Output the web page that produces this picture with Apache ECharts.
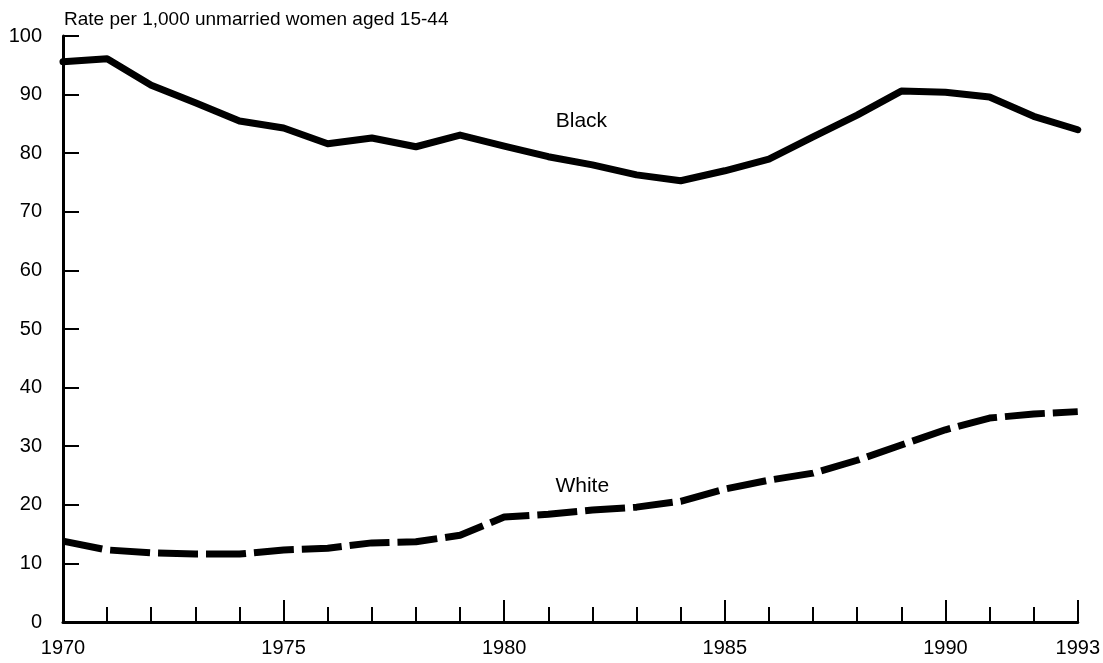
<!DOCTYPE html>
<html>
<head>
<meta charset="utf-8">
<script src="https://cdn.jsdelivr.net/npm/echarts@6/dist/echarts.min.js"></script>
<style>
  html, body { margin: 0; padding: 0; background: #fff; }
  #chart { width: 1103px; height: 663px; }
</style>
</head>
<body>
<div id="chart"></div>
<script>
// years on the x axis
const years = [1970, 1971, 1972, 1973, 1974, 1975, 1976, 1977, 1978, 1979, 1980, 1981,
  1982, 1983, 1984, 1985, 1986, 1987, 1988, 1989, 1990, 1991, 1992, 1993];
// rate per 1,000 unmarried women aged 15-44
const blackRate = [95.6, 96.1, 91.6, 88.6, 85.5, 84.3, 81.6, 82.6, 81.1, 83.1, 81.2, 79.4,
  78.0, 76.3, 75.3, 77.0, 79.0, 82.8, 86.5, 90.6, 90.4, 89.6, 86.3, 84.0];
const whiteRate = [13.8, 12.3, 11.8, 11.6, 11.6, 12.3, 12.6, 13.5, 13.7, 14.8, 17.9, 18.4,
  19.1, 19.6, 20.6, 22.7, 24.2, 25.4, 27.6, 30.2, 32.8, 34.8, 35.5, 35.9];
const majorYears = [1970, 1975, 1980, 1985, 1990, 1993];
const yTicks = [0, 10, 20, 30, 40, 50, 60, 70, 80, 90, 100];

const font = "Liberation Sans";
const pair = (arr) => years.map((y, i) => [y, arr[i]]);

var myChart = echarts.init(document.getElementById("chart"));
var option = {
  animation: false,
  title: {
    text: "Rate per 1,000 unmarried women aged 15-44",
    left: 59,
    top: 5,
    textStyle: { color: "#000", fontSize: 19, fontWeight: "normal", fontFamily: font },
  },
  grid: { left: 63, right: 22, top: 36, bottom: 41, containLabel: false },
  xAxis: [
    {
      type: "value",
      min: 1970,
      max: 1993,
      interval: 1,
      axisLine: { lineStyle: { color: "#000", width: 3 } },
      axisTick: { inside: true, length: 15, lineStyle: { color: "#000", width: 2 } },
      axisLabel: { show: false },
      splitLine: { show: false },
    },
    {
      type: "value",
      min: 1970,
      max: 1993,
      position: "bottom",
      axisLine: { show: false },
      axisTick: {
        inside: true,
        length: 22,
        customValues: majorYears,
        lineStyle: { color: "#000", width: 2 },
      },
      axisLabel: {
        customValues: majorYears,
        margin: 16,
        color: "#000",
        fontSize: 20,
        fontFamily: font,
        formatter: (v) => String(v),
      },
      splitLine: { show: false },
    },
  ],
  yAxis: {
    type: "value",
    min: 0,
    max: 100,
    interval: 10,
    axisLine: { show: true, lineStyle: { color: "#000", width: 3 } },
    axisTick: { show: true, inside: true, length: 16, customValues: yTicks, lineStyle: { color: "#000", width: 2 } },
    axisLabel: { color: "#000", fontSize: 20, fontFamily: font, margin: 21, customValues: yTicks },
    splitLine: { show: false },
  },
  series: [
    {
      name: "Black",
      type: "line",
      data: pair(blackRate),
      symbol: "none",
      lineStyle: { color: "#000", width: 7, cap: "round", join: "round" },
      markPoint: {
        symbol: "circle",
        symbolSize: 0,
        label: { show: true, formatter: "Black", color: "#000", fontSize: 21, fontFamily: font },
        data: [{ coord: [1981.75, 85.5] }],
      },
    },
    {
      name: "White",
      type: "line",
      data: pair(whiteRate),
      symbol: "none",
      lineStyle: { color: "#000", width: 7, type: [40, 8], cap: "butt", join: "round" },
      markPoint: {
        symbol: "circle",
        symbolSize: 0,
        label: { show: true, formatter: "White", color: "#000", fontSize: 21, fontFamily: font },
        data: [{ coord: [1981.77, 23.2] }],
      },
    },
  ],
};
myChart.setOption(option);
</script>
</body>
</html>
